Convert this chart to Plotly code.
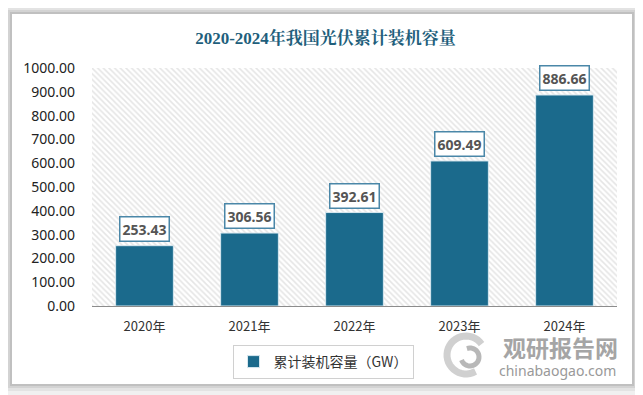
import math
import plotly.graph_objects as go

categories = ["2020年", "2021年", "2022年", "2023年", "2024年"]
values = [253.43, 306.56, 392.61, 609.49, 886.66]
series_name = "累计装机容量（GW）"
title_text = "2020-2024年我国光伏累计装机容量"
y_max = 1000
tick_vals = [0, 100, 200, 300, 400, 500, 600, 700, 800, 900, 1000]
tick_text = [f"{v:.2f}" for v in tick_vals]

OFF = 8  # page body margin
W, H = 643 - OFF, 395 - OFF
L, R, T, B = 92 - OFF, 26, 68 - OFF, 89
pw, ph = W - L - R, H - T - B

def px_x(px):
    return (px - OFF - L) / pw

def px_y(py):
    return (H - B - (py - OFF)) / ph

def arc_path(cx, cy, r, a0, a1, n=30):
    pts = []
    for i in range(n + 1):
        a = math.radians(a0 + (a1 - a0) * i / n)
        pts.append((px_x(cx + r * math.cos(a)), px_y(cy - r * math.sin(a))))
    return "M " + " L ".join(f"{x:.4f},{y:.4f}" for x, y in pts)

fig = go.Figure()

# hatched plot background
fig.add_trace(go.Bar(
    x=[categories[len(categories) // 2]], y=[y_max], width=[len(categories)],
    marker=dict(color="white", line=dict(width=0),
                pattern=dict(shape="\\", fgcolor="#cccccc", bgcolor="white", size=4, solidity=0.4)),
    showlegend=False, hoverinfo="skip"))

fig.add_trace(go.Bar(
    x=categories, y=values, name=series_name, width=0.55,
    marker=dict(color="#1b6a8c", line=dict(color="#d8e8f0", width=1)),
    showlegend=True))

for c, v in zip(categories, values):
    fig.add_annotation(x=c, y=v, text=f"<b>{v:.2f}</b>", showarrow=False,
                       yanchor="bottom", yshift=4,
                       font=dict(family="Noto Sans, Liberation Sans", size=14, color="#555555"),
                       bgcolor="white", bordercolor="#4a87a8", borderwidth=1.5, borderpad=2)

# card + shadow
shapes = []
for op, d in [(0.05, 7), (0.07, 4), (0.09, 2)]:
    shapes.append(dict(type="rect", xref="paper", yref="paper", layer="below",
                       x0=px_x(12 - d), x1=px_x(632 + d), y0=px_y(384 + d), y1=px_y(14 - d),
                       fillcolor=f"rgba(0,0,0,{op})", line=dict(width=0)))
shapes.append(dict(type="rect", xref="paper", yref="paper", layer="below",
                   x0=px_x(12), x1=px_x(632), y0=px_y(384), y1=px_y(14),
                   fillcolor="white", line=dict(width=0)))
# watermark logo swirl
shapes.append(dict(type="path", xref="paper", yref="paper", layer="above",
                   path=arc_path(466, 355, 19, 35, 300), line=dict(color="#d0d0d0", width=7)))
shapes.append(dict(type="path", xref="paper", yref="paper", layer="above",
                   path=arc_path(470, 357, 9, 200, 470), line=dict(color="#b8b8b8", width=5)))
fig.update_layout(shapes=shapes)

# watermark text
fig.add_annotation(xref="paper", yref="paper", x=px_x(560), y=px_y(347), text="<b>观研报告网</b>",
                   xanchor="center", yanchor="middle",
                   showarrow=False, font=dict(family="Noto Sans CJK SC", size=23, color="#a5a5a5"))
fig.add_annotation(xref="paper", yref="paper", x=px_x(557), y=px_y(370), text="chinabaogao.com",
                   xanchor="center", yanchor="middle",
                   showarrow=False, font=dict(family="Noto Sans", size=14, color="#999999"))

fig.update_layout(
    width=W, height=H,
    margin=dict(l=L, r=R, t=T, b=B, autoexpand=False),
    paper_bgcolor="#f0f0f0", plot_bgcolor="white",
    barmode="overlay", bargap=0.45,
    title=dict(text=f"<b>{title_text}</b>", x=0.5, xanchor="center", y=1 - (38 - OFF) / H, yanchor="middle",
               font=dict(family="Liberation Serif, Noto Serif CJK SC, serif", size=17, color="#1f5f7c")),
    font=dict(family="Noto Sans, Noto Sans CJK SC", size=13, color="#333333"),
    xaxis=dict(type="category", categoryorder="array", categoryarray=categories,
               range=[-0.5, len(categories) - 0.5], showgrid=False,
               showline=True, linecolor="#8c8c8c", linewidth=1, ticks="", ticklabelstandoff=8,
               tickfont=dict(family="Noto Sans CJK SC", size=13, color="#333333")),
    yaxis=dict(range=[0, y_max], tickvals=tick_vals, ticktext=tick_text, showgrid=False,
               zeroline=False, showline=False, ticks="", ticklabelstandoff=16,
               tickfont=dict(family="Noto Sans", size=14, color="#222222")),
    legend=dict(orientation="h", x=px_x(323), xanchor="center", y=px_y(345), yanchor="top",
                bgcolor="white", bordercolor="#d0d0d0", borderwidth=1,
                font=dict(family="Noto Sans CJK SC", size=14, color="#333333"),
                itemwidth=30),
    hovermode=False,
)

fig.write_html("out.html")
